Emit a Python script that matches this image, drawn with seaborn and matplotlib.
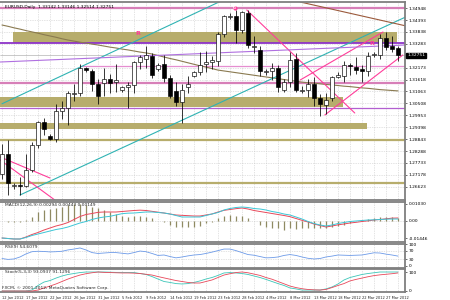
import numpy as np
import pandas as pd
import matplotlib
matplotlib.use("Agg")
import matplotlib.pyplot as plt
import seaborn as sns
from matplotlib.patches import Rectangle

sns.set_style("white")
plt.rcParams['font.family'] = ['DejaVu Sans']

# ---------------- data ----------------
dates = ["12 Jan 2012", "13 Jan 2012", "15 Jan 2012", "16 Jan 2012", "17 Jan 2012", "18 Jan 2012",
         "19 Jan 2012", "20 Jan 2012", "22 Jan 2012", "23 Jan 2012", "24 Jan 2012", "25 Jan 2012",
         "26 Jan 2012", "27 Jan 2012", "29 Jan 2012", "30 Jan 2012", "31 Jan 2012", "1 Feb 2012",
         "2 Feb 2012", "3 Feb 2012", "5 Feb 2012", "6 Feb 2012", "7 Feb 2012", "8 Feb 2012",
         "9 Feb 2012", "10 Feb 2012", "12 Feb 2012", "13 Feb 2012", "14 Feb 2012", "15 Feb 2012",
         "16 Feb 2012", "17 Feb 2012", "19 Feb 2012", "20 Feb 2012", "21 Feb 2012", "22 Feb 2012",
         "23 Feb 2012", "24 Feb 2012", "26 Feb 2012", "27 Feb 2012", "28 Feb 2012", "29 Feb 2012",
         "1 Mar 2012", "2 Mar 2012", "4 Mar 2012", "5 Mar 2012", "6 Mar 2012", "7 Mar 2012",
         "8 Mar 2012", "9 Mar 2012", "11 Mar 2012", "12 Mar 2012", "13 Mar 2012", "14 Mar 2012",
         "15 Mar 2012", "16 Mar 2012", "18 Mar 2012", "19 Mar 2012", "20 Mar 2012", "21 Mar 2012",
         "22 Mar 2012", "23 Mar 2012", "25 Mar 2012", "26 Mar 2012", "27 Mar 2012", "28 Mar 2012",
         "29 Mar 2012"]

opens = [1.2720, 1.2815, 1.2665, 1.2670, 1.2665, 1.2740, 1.2855, 1.2965, 1.2900, 1.2885, 1.3015, 1.3030,
         1.3095, 1.3100, 1.3215, 1.3200, 1.3140, 1.3145, 1.3165, 1.3150, 1.3115, 1.3125, 1.3135, 1.3245,
         1.3260, 1.3270, 1.3210, 1.3236, 1.3170, 1.3110, 1.3055, 1.3125, 1.3180, 1.3195, 1.3235, 1.3245,
         1.3250, 1.3375, 1.3455, 1.3460, 1.3395, 1.3470, 1.3315, 1.3300, 1.3195, 1.3200, 1.3215, 1.3115,
         1.3150, 1.3260, 1.3110, 1.3115, 1.3140, 1.3075, 1.3045, 1.3075, 1.3175, 1.3180, 1.3230, 1.3222,
         1.3210, 1.3200, 1.3275, 1.3275, 1.3355, 1.3320, 1.3310]
highs = [1.2860, 1.2880, 1.2680, 1.2710, 1.2815, 1.2870, 1.2970, 1.2985, 1.2910, 1.3050, 1.3060, 1.3110,
         1.3140, 1.3235, 1.3220, 1.3210, 1.3165, 1.3215, 1.3190, 1.3235, 1.3130, 1.3150, 1.3250, 1.3275,
         1.3320, 1.3285, 1.3240, 1.3275, 1.3185, 1.3150, 1.3140, 1.3180, 1.3200, 1.3290, 1.3295, 1.3270,
         1.3385, 1.3465, 1.3470, 1.3485, 1.3480, 1.3486, 1.3365, 1.3320, 1.3210, 1.3240, 1.3230, 1.3165,
         1.3290, 1.3285, 1.3130, 1.3165, 1.3175, 1.3095, 1.3100, 1.3180, 1.3195, 1.3250, 1.3240, 1.3265,
         1.3230, 1.3290, 1.3290, 1.3375, 1.3385, 1.3365, 1.3320]
lows = [1.2700, 1.2624, 1.2650, 1.2625, 1.2660, 1.2730, 1.2845, 1.2905, 1.2880, 1.2870, 1.2980, 1.2950,
        1.3060, 1.3085, 1.3195, 1.3110, 1.3050, 1.3085, 1.3100, 1.3105, 1.3105, 1.3030, 1.3100, 1.3210,
        1.3215, 1.3170, 1.3200, 1.3150, 1.3075, 1.3040, 1.2960, 1.3100, 1.3175, 1.3185, 1.3195, 1.3210,
        1.3225, 1.3360, 1.3445, 1.3330, 1.3380, 1.3310, 1.3285, 1.3180, 1.3185, 1.3160, 1.3105, 1.3105,
        1.3125, 1.3105, 1.3100, 1.3080, 1.3040, 1.2990, 1.3000, 1.3060, 1.3170, 1.3150, 1.3185, 1.3190,
        1.3150, 1.3180, 1.3265, 1.3260, 1.3300, 1.3290, 1.3250]
closes = [1.2815, 1.2680, 1.2670, 1.2665, 1.2740, 1.2855, 1.2965, 1.2930, 1.2885, 1.3015, 1.3030, 1.3100,
          1.3100, 1.3215, 1.3205, 1.3140, 1.3085, 1.3165, 1.3145, 1.3160, 1.3125, 1.3135, 1.3245, 1.3265,
          1.3275, 1.3185, 1.3230, 1.3170, 1.3085, 1.3055, 1.3115, 1.3140, 1.3195, 1.3230, 1.3245, 1.3255,
          1.3375, 1.3460, 1.3460, 1.3395, 1.3475, 1.3325, 1.3318, 1.3200, 1.3200, 1.3215, 1.3125, 1.3150,
          1.3255, 1.3115, 1.3115, 1.3140, 1.3075, 1.3050, 1.3065, 1.3175, 1.3185, 1.3230, 1.3225, 1.3205,
          1.3200, 1.3270, 1.3280, 1.3355, 1.3315, 1.3305, 1.3275]

ma_values = [1.3416, 1.3410, 1.3403, 1.3397, 1.3390, 1.3384, 1.3378, 1.3371, 1.3365, 1.3359, 1.3352, 1.3346,
             1.3341, 1.3336, 1.3332, 1.3327, 1.3323, 1.3318, 1.3313, 1.3309, 1.3304, 1.3300, 1.3295, 1.3290,
             1.3286, 1.3281, 1.3274, 1.3267, 1.3260, 1.3254, 1.3247, 1.3240, 1.3233, 1.3226, 1.3220, 1.3213,
             1.3206, 1.3202, 1.3198, 1.3194, 1.3190, 1.3186, 1.3182, 1.3178, 1.3174, 1.3170, 1.3166, 1.3162,
             1.3158, 1.3154, 1.3150, 1.3147, 1.3145, 1.3142, 1.3139, 1.3137, 1.3134, 1.3131, 1.3129, 1.3126,
             1.3123, 1.3121, 1.3118, 1.3115, 1.3113, 1.3111, 1.3109]

macd_hist = [0.0, -0.6, -0.3, -0.6, 0.6, 2.4, 5.4, 6.6, 7.2, 7.8, 8.4, 9.6, 10.2, 10.2, 9.6, 8.4, 7.8, 6.6,
             5.4, 4.2, 3.0, 2.4, 3.0, 3.0, 2.4, 1.8, 0.0, -0.6, -2.4, -3.6, -3.6, -3.6, -3.6, -3.0, -1.2,
             -0.6, 1.8, 3.0, 3.6, 3.0, 3.0, 1.8, 0.0, -2.4, -3.6, -4.2, -4.2, -5.4, -4.2, -4.8, -4.2, -4.2,
             -4.2, -4.2, -4.2, -3.6, -3.0, -2.4, -1.2, 0.0, 0.6, 1.2, 1.8, 2.4, 2.4, 2.4, 1.8]
macd_red = [-10.2, -10.5, -10.8, -10.8, -9.6, -8.1, -6.9, -5.4, -4.2, -3.0, -2.1, -0.9, 0.9, 2.7, 3.9, 4.5,
            5.2, 5.4, 5.4, 5.4, 5.7, 6.0, 6.3, 6.5, 6.3, 5.8, 5.3, 4.8, 4.2, 3.6, 3.4, 3.2, 3.0, 3.0, 3.6,
            4.2, 5.4, 6.4, 6.9, 7.4, 7.8, 7.2, 6.3, 5.7, 5.1, 4.5, 3.9, 3.3, 2.6, 1.5, 0.4, -0.6, -1.8, -2.7,
            -3.6, -3.0, -2.3, -1.8, -1.2, -0.8, -0.3, 0.1, 0.6, 0.9, 1.3, 1.7, 1.8]
macd_cyan = [-10.2, -10.5, -10.8, -10.8, -9.9, -8.7, -7.8, -6.9, -6.0, -5.1, -4.5, -3.6, -2.4, -1.2, -0.3,
             0.9, 1.8, 2.4, 2.8, 3.6, 4.4, 4.7, 4.8, 5.1, 5.4, 5.4, 5.1, 4.8, 4.2, 3.3, 2.4, 2.4, 2.4, 2.4,
             3.3, 4.2, 5.1, 6.6, 7.5, 8.1, 8.4, 8.1, 7.5, 7.2, 6.6, 5.7, 5.1, 4.2, 3.6, 2.4, 1.2, -0.3, -1.5,
             -2.4, -3.0, -2.4, -1.5, -0.9, -0.3, 0.0, 0.3, 0.6, 0.7, 0.9, 1.1, 1.2, 1.2]

rsi_values = [34, 30, 32, 41, 55, 65, 67, 66, 64, 65, 67, 73, 77, 82, 73, 61, 57, 59, 61, 61, 58, 55, 61, 68,
              65, 57, 48, 50, 43, 37, 41, 46, 50, 52, 57, 63, 70, 77, 77, 70, 61, 52, 49, 43, 37, 38, 41, 48,
              52, 48, 41, 35, 32, 34, 41, 45, 50, 49, 48, 49, 50, 55, 60, 59, 54, 50, 45]

stoch_main = [0, 0, 0, 0, 0, 5, 29, 47, 55, 68, 79, 87, 92, 97, 100, 100, 100, 100, 99, 98, 98, 97, 97, 92,
              87, 76, 63, 50, 45, 39, 37, 39, 45, 53, 63, 71, 82, 95, 97, 95, 92, 87, 79, 71, 61, 50, 39, 29,
              16, 11, 5, 5, 5, 5, 11, 21, 37, 58, 71, 79, 87, 92, 96, 100, 100, 100, 100]
stoch_signal = [0, 0, 0, 0, 0, 0, 5, 16, 26, 37, 50, 63, 74, 84, 91, 96, 100, 98, 97, 96, 95, 95, 94, 92, 88,
                84, 76, 69, 62, 55, 50, 45, 42, 42, 50, 58, 71, 84, 91, 97, 100, 96, 89, 82, 71, 62, 50, 38,
                26, 18, 12, 8, 6, 5, 8, 18, 29, 39, 53, 61, 68, 75, 81, 85, 88, 91, 95]

# zones (start bar, end bar, low price, high price)
zone_starts = [1.8, -0.4, -0.4]
zone_ends = [65.8, 56.8, 60.8]
zone_lows = [1.33322, 1.30340, 1.29315]
zone_highs = [1.33835, 1.30806, 1.29594]

# horizontal line levels
pink_full_levels = [1.34953, 1.31459]
pink_partial_level = 1.32251
purple_levels = [1.33322]
violet_levels = [1.30293]
khaki_levels = [1.28802, 1.26799]
bid_level = 1.32751

# trend lines: (bar0, price0, bar1, price1)
cyan_lines = [(3.0, 1.26239, 68.0, 1.34627), (0.0, 1.30490, 36.3, 1.35250)]
sienna_lines = [(49.7, 1.35233, 71.8, 1.33835)]
pink_trend = [(40.8, 1.34860, 58.8, 1.30060), (53.8, 1.29967, 66.8, 1.32763),
              (49.7, 1.31598, 63.5, 1.33835), (-0.3, 1.28010, 8.0, 1.27031), (-0.3, 1.27870, 8.8, 1.26006)]
purple_slant = [(-0.3, 1.32437, 67.2, 1.33229)]

price_ticks = [1.34948, 1.34393, 1.33838, 1.33283, 1.32173, 1.31618, 1.31063, 1.30508, 1.29953,
               1.29398, 1.28843, 1.28288, 1.27733, 1.27178, 1.26623]
date_tick_bars = [0, 4, 8, 12, 16, 20, 24, 28, 32, 36, 40, 44, 48, 52, 56, 60, 64]

title_text = "EURUSD,Daily  1.33142 1.33146 1.32514 1.32751"
marker_r = [(22.7, 1.33742), (61.7, 1.33322)]
marker_g = (38.8, 1.34953)

# ---------------- figure ----------------
n = len(closes)
bars = np.arange(n)
df = pd.DataFrame({"bar": bars, "open": opens, "high": highs, "low": lows, "close": closes,
                   "ma": ma_values, "hist": np.array(macd_hist) / 1000.0,
                   "red": np.array(macd_red) / 1000.0, "cyan": np.array(macd_cyan) / 1000.0,
                   "rsi": rsi_values, "k": stoch_main, "d": stoch_signal})

fig = plt.figure(figsize=(4.5, 3), dpi=100)
fig.patch.set_facecolor("white")
axp = fig.add_axes([0.0, 1 - 200 / 300, 0.9, 198 / 300])
axm = fig.add_axes([0.0, 1 - 242 / 300, 0.9, 40 / 300], sharex=axp)
axr = fig.add_axes([0.0, 1 - 268 / 300, 0.9, 24 / 300], sharex=axp)
axs = fig.add_axes([0.0, 1 - 292 / 300, 0.9, 23 / 300], sharex=axp)

XMIN, XMAX = -0.333, 67.17
GRID = dict(color="#c8c8c8", lw=0.5, ls=(0, (1, 1.5)))
FS = 3.2
SPINE = "#7f7f7f"
PINK = "#ff3d9a"

for ax in (axp, axm, axr, axs):
    ax.set_xlim(XMIN, XMAX)
    for s in ax.spines.values():
        s.set_color(SPINE)
        s.set_linewidth(1.3)
    ax.spines["left"].set_visible(False)
    ax.yaxis.tick_right()
    ax.tick_params(axis="y", labelsize=FS, length=1.5, pad=1, colors="black", width=0.4)
    ax.tick_params(axis="x", labelbottom=False, length=0)
    for b in range(0, n + 1, 2):
        ax.axvline(b, zorder=0, **GRID)

# ---- price pane ----
axp.set_ylim(1.26006, 1.35233)
axp.set_yticks(price_ticks)
axp.set_yticklabels([f"{v:.5f}" for v in price_ticks])
for v in price_ticks:
    axp.axhline(v, zorder=0, **GRID)

ZONE = "#b7ad6c"
for s, e, lo, hi in zip(zone_starts, zone_ends, zone_lows, zone_highs):
    axp.add_patch(Rectangle((s, lo), e - s, hi - lo, facecolor=ZONE, edgecolor="none", zorder=1))

for lv in pink_full_levels:
    axp.axhline(lv, color="#d77fb8", lw=1.6, zorder=1.5)
axp.hlines(pink_partial_level, 13, XMAX, color="#e58ed0", lw=0.9, zorder=1.5)
for lv in purple_levels:
    axp.axhline(lv, color="#8e34c8", lw=1.3, zorder=1.6)
for lv in violet_levels:
    axp.axhline(lv, color="#b25fd0", lw=0.9, zorder=1.6)
for lv in khaki_levels:
    axp.axhline(lv, color=ZONE, lw=1.6, zorder=1.5)
axp.axhline(bid_level, color="#a0a0a0", lw=0.4, zorder=1.5)

sns.lineplot(data=df, x="bar", y="ma", ax=axp, color="#8a7a50", lw=0.8, zorder=2)

def seg(ax, lines, color, lw):
    for b0, p0, b1, p1 in lines:
        ax.plot([b0, b1], [p0, p1], color=color, lw=lw, zorder=2.2, clip_on=True)

seg(axp, cyan_lines, "#2fb3b3", 0.8)
seg(axp, sienna_lines, "#9b5a3c", 0.8)
seg(axp, pink_trend, PINK, 0.8)
seg(axp, purple_slant, "#b070e0", 0.8)

# candles
for i in range(n):
    o, h, l, c = opens[i], highs[i], lows[i], closes[i]
    axp.vlines(i, l, h, color="black", lw=0.55, zorder=3)
    lo, hi = min(o, c), max(o, c)
    fc = "white" if c >= o else "black"
    axp.add_patch(Rectangle((i - 0.32, lo), 0.64, max(hi - lo, 0.00006), facecolor=fc,
                            edgecolor="black", lw=0.45, zorder=4))

# markers
for bx, py in marker_r:
    axp.text(bx, py, "R", color=PINK, fontsize=4.5, fontweight="bold", ha="center", va="center", zorder=5)
axp.scatter([marker_g[0]], [marker_g[1]], s=9, color=PINK, zorder=5, linewidths=0)
axp.text(marker_g[0], marker_g[1], "G", color="white", fontsize=2.6, fontweight="bold",
         ha="center", va="center", zorder=6)

axp.text(XMAX + 0.35, bid_level, f"{bid_level:.5f}", fontsize=FS, color="white", va="center", ha="left",
         bbox=dict(boxstyle="square,pad=0.15", fc="black", ec="black"), clip_on=False, zorder=7)
axp.text(0.012, 0.985, title_text, transform=axp.transAxes, fontsize=FS, va="top", ha="left",
         color="black", zorder=8)
axp.set_xlabel("")
axp.set_ylabel("")

# ---- MACD pane ----
axm.set_ylim(-0.0126, 0.0114)
axm.axhline(0, zorder=0, **GRID)
axm.vlines(df["bar"], 0, df["hist"], color="#8f8a62", lw=0.9, zorder=2)
sns.lineplot(data=df, x="bar", y="red", ax=axm, color="#e8485a", lw=0.7, zorder=3)
sns.lineplot(data=df, x="bar", y="cyan", ax=axm, color="#3cc6d6", lw=0.7, zorder=3)
axm.set_yticks([0.0103, 0.0, -0.0104])
axm.set_yticklabels(["0.01030", "0.00", "-0.01446"])
axm.text(0.012, 0.97, "MACD(12,26,9) 0.00294 0.00443 0.00149", transform=axm.transAxes, fontsize=FS,
         va="top", ha="left")
axm.set_xlabel(""); axm.set_ylabel("")

# ---- RSI pane ----
axr.set_ylim(-9.1, 100)
for v in (70, 30):
    axr.axhline(v, zorder=0, **GRID)
sns.lineplot(data=df, x="bar", y="rsi", ax=axr, color="#6c9ae8", lw=0.6, zorder=3)
axr.set_yticks([100, 70, 30, 0])
axr.set_yticklabels(["100", "70", "30", "0"])
axr.text(0.012, 0.95, "RSI(9) 54.6079", transform=axr.transAxes, fontsize=FS, va="top", ha="left")
axr.set_xlabel(""); axr.set_ylabel("")

# ---- Stochastic pane ----
axs.set_ylim(-5.3, 115.8)
sns.lineplot(data=df, x="bar", y="k", ax=axs, color="#3cc6b8", lw=0.6, zorder=3)
sns.lineplot(data=df, x="bar", y="d", ax=axs, color="#e8485a", lw=0.6, zorder=3)
axs.set_yticks([100, 0])
axs.set_yticklabels(["100", "0"])
axs.text(0.012, 0.95, "Stoch(5,3,3) 93.0937 91.1296", transform=axs.transAxes, fontsize=FS, va="top", ha="left")
axs.text(0.005, 0.08, "FXCM, \u00a9 2001-2012, MetaQuotes Software Corp.", transform=axs.transAxes,
         fontsize=FS, va="bottom", ha="left")
axs.set_xticks(date_tick_bars)
axs.set_xticklabels([dates[b] for b in date_tick_bars], ha="left")
axs.tick_params(axis="x", labelbottom=True, labelsize=2.6, length=2, pad=1, width=0.4)
axs.set_xlabel(""); axs.set_ylabel("")

fig.savefig("out.png", dpi=100, facecolor="white")
